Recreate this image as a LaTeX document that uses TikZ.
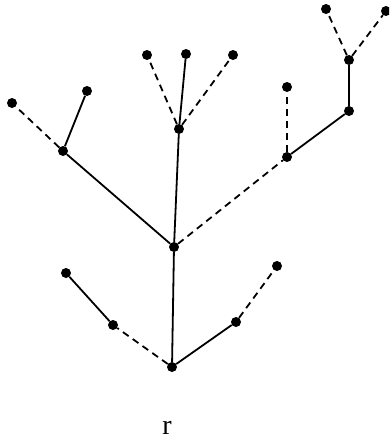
\documentclass[tikz,border=0pt]{standalone}
\usepackage{fontspec}
\setmainfont{Liberation Serif}
\usepackage{tikz}

\begin{document}
\begin{tikzpicture}[
    x=1pt,
    y=-1pt,
    vertex/.style={
        circle,
        fill=black,
        inner sep=0pt,
        minimum size=10pt
    },
    edge/.style={
        line width=1.8pt
    },
    dashedge/.style={
        edge,
        dash pattern=on 7pt off 5pt
    }
]

\useasboundingbox (0,0) rectangle (389,445);
\clip (0,0) rectangle (389,445);


\node[vertex] (root) at (172,367) {};
\node[vertex] (lmid) at (113,325) {};
\node[vertex] (ltip) at (66,273) {};
\node[vertex] (rmid) at (236,322) {};
\node[vertex] (rtip) at (277,266) {};


\node[vertex] (hub) at (174,247) {};


\node[vertex] (left)  at (63,151) {};
\node[vertex] (leftA) at (12,103) {};
\node[vertex] (leftB) at (87,91) {};


\node[vertex] (mid)  at (179,129) {};
\node[vertex] (midA) at (147,55) {};
\node[vertex] (midB) at (186,54) {};
\node[vertex] (midC) at (233,55) {};


\node[vertex] (right)  at (287,157) {};
\node[vertex] (rightA) at (287,87) {};
\node[vertex] (rightB) at (349,111) {};
\node[vertex] (top)    at (349,60) {};
\node[vertex] (topA)   at (326,9) {};
\node[vertex] (topB)   at (386,11) {};


\draw[dashedge] (root) -- (lmid);
\draw[edge]     (lmid) -- (ltip);
\draw[edge]     (root) -- (rmid);
\draw[dashedge] (rmid) -- (rtip);
\draw[edge]     (root) -- (hub);

\draw[edge]     (hub)  -- (left);
\draw[dashedge] (left) -- (leftA);
\draw[edge]     (left) -- (leftB);

\draw[edge]     (hub) -- (mid);
\draw[dashedge] (mid) -- (midA);
\draw[edge]     (mid) -- (midB);
\draw[dashedge] (mid) -- (midC);

\draw[dashedge] (hub)    -- (right);
\draw[dashedge] (right)  -- (rightA);
\draw[edge]     (right)  -- (rightB);
\draw[edge]     (rightB) -- (top);
\draw[dashedge] (top)    -- (topA);
\draw[dashedge] (top)    -- (topB);


\node[font=\fontsize{28}{30}\selectfont] (rlabel) at (167,428) {r};

\end{tikzpicture}
\end{document}
